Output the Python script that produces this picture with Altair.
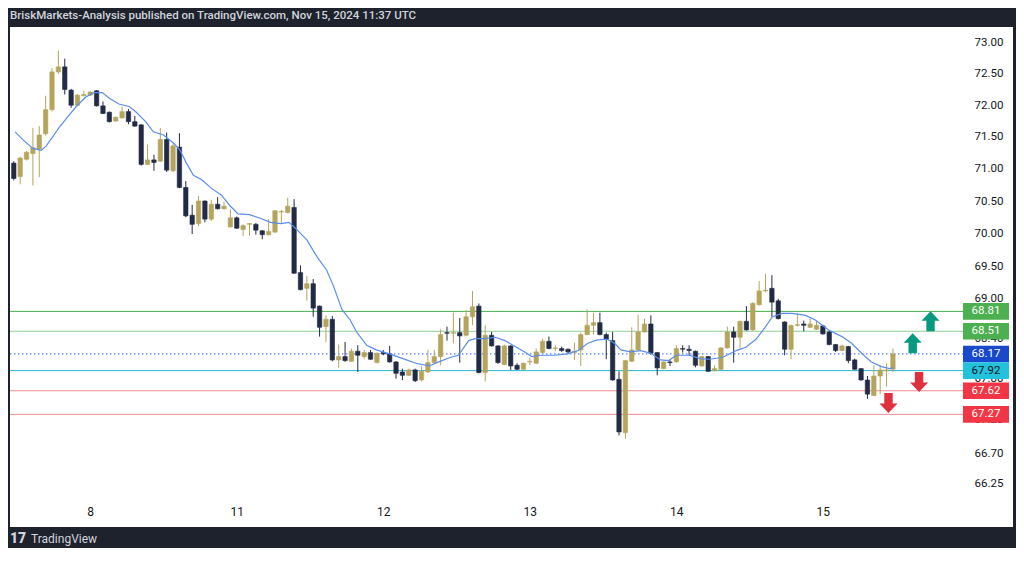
import altair as alt
import pandas as pd

# ---------------- data ----------------
candle_idx = list(range(-1, 138))

opens = [71.09,
    70.88, 71.15, 71.24, 71.31, 71.55, 71.93, 72.53, 72.61, 72.24, 72.00,
    72.15, 72.16, 72.23, 71.99, 71.89, 71.75, 71.80, 71.90, 71.74, 71.69,
    71.07, 71.14, 71.12, 71.46, 70.97, 71.34, 70.71, 70.28, 70.15, 70.50,
    70.22, 70.45, 70.38, 70.10, 70.24, 70.06, 70.14, 70.14, 70.04, 69.98,
    70.02, 70.33, 70.32, 70.40, 69.40, 69.16, 69.23, 68.89, 68.58, 68.69,
    68.08, 68.13, 68.06, 68.21, 68.13, 68.19, 68.04, 68.19, 68.17, 68.05,
    67.90, 67.85, 67.93, 67.78, 67.90, 68.04, 68.13, 68.49, 68.48, 68.49,
    68.45, 68.73, 68.89, 67.89, 68.45, 68.29, 68.01, 68.29, 68.00, 67.94,
    68.05, 68.03, 68.19, 68.36, 68.25, 68.25, 68.24, 68.19, 68.23, 68.46,
    68.60, 68.64, 68.46, 68.37, 67.79, 67.00, 68.06, 68.23, 68.50, 68.62,
    68.19, 67.95, 68.05, 68.05, 68.25, 68.24, 68.21, 67.99, 68.13, 67.92,
    67.94, 68.26, 68.50, 68.42, 68.66, 68.53, 68.91, 69.12, 69.16, 68.97,
    68.65, 68.24, 68.60, 68.62, 68.57, 68.54, 68.59, 68.50, 68.31, 68.22,
    68.28, 68.08, 67.95, 67.78, 67.55, 67.84, 67.92, 67.94]

highs = [71.12,
    71.19, 71.28, 71.64, 71.67, 72.15, 72.59, 72.87, 72.74, 72.26, 72.18,
    72.23, 72.22, 72.24, 72.06, 71.90, 71.82, 71.98, 71.94, 71.83, 71.70,
    71.38, 71.22, 71.64, 71.57, 71.40, 71.56, 70.81, 70.44, 70.58, 70.51,
    70.52, 70.56, 70.49, 70.37, 70.26, 70.14, 70.16, 70.16, 70.05, 70.22,
    70.36, 70.36, 70.55, 70.53, 69.51, 69.35, 69.30, 68.90, 68.75, 68.74,
    68.31, 68.35, 68.25, 68.30, 68.23, 68.23, 68.19, 68.23, 68.29, 68.06,
    67.95, 67.95, 67.95, 67.99, 68.23, 68.23, 68.54, 68.58, 68.79, 68.71,
    68.83, 69.12, 68.93, 68.60, 68.50, 68.30, 68.31, 68.30, 68.03, 68.04,
    68.11, 68.25, 68.40, 68.43, 68.30, 68.28, 68.25, 68.34, 68.49, 68.84,
    68.79, 68.79, 68.49, 68.50, 67.91, 68.08, 68.57, 68.76, 68.70, 68.75,
    68.20, 68.06, 68.09, 68.30, 68.30, 68.30, 68.22, 68.14, 68.14, 68.00,
    68.27, 68.58, 68.58, 68.67, 68.89, 68.95, 69.27, 69.38, 69.36, 69.00,
    68.66, 68.61, 68.78, 68.67, 68.70, 68.67, 68.61, 68.52, 68.32, 68.31,
    68.29, 68.10, 67.96, 67.84, 68.00, 68.00, 68.03, 68.25]

lows = [70.82,
    70.76, 71.13, 70.74, 70.87, 71.52, 71.90, 72.50, 72.17, 71.96, 71.98,
    72.14, 72.15, 71.98, 71.86, 71.73, 71.74, 71.79, 71.70, 71.66, 71.05,
    71.06, 70.97, 71.11, 70.95, 70.95, 70.70, 70.25, 69.99, 70.11, 70.17,
    70.19, 70.37, 70.37, 70.09, 70.07, 69.96, 69.96, 69.98, 69.91, 69.97,
    70.01, 70.15, 70.31, 69.38, 69.13, 68.97, 68.73, 68.43, 68.35, 68.06,
    67.96, 68.05, 68.05, 67.90, 68.09, 68.08, 68.03, 68.15, 68.04, 67.80,
    67.78, 67.84, 67.75, 67.76, 67.89, 68.03, 68.00, 68.37, 68.33, 68.04,
    68.44, 68.60, 67.88, 67.76, 68.28, 68.02, 68.00, 67.93, 67.93, 67.93,
    68.00, 68.02, 68.18, 68.24, 68.21, 68.20, 68.18, 68.08, 67.99, 68.45,
    68.46, 68.45, 68.09, 67.77, 66.96, 66.91, 68.05, 68.22, 68.49, 68.16,
    67.85, 67.94, 67.99, 68.04, 68.19, 68.15, 67.97, 67.98, 67.90, 67.91,
    67.93, 68.25, 68.04, 68.25, 68.52, 68.52, 68.90, 69.10, 68.73, 68.69,
    68.15, 68.09, 68.58, 68.51, 68.56, 68.53, 68.46, 68.30, 68.20, 68.21,
    68.03, 67.93, 67.77, 67.50, 67.54, 67.57, 67.68, 67.90]

closes = [70.85,
    71.17, 71.26, 71.33, 71.53, 71.93, 72.53, 72.61, 72.25, 72.00, 72.16,
    72.17, 72.21, 71.99, 71.87, 71.74, 71.81, 71.90, 71.74, 71.67, 71.07,
    71.14, 71.10, 71.46, 70.98, 71.36, 70.71, 70.27, 70.14, 70.50, 70.22,
    70.45, 70.38, 70.42, 70.24, 70.08, 70.12, 70.15, 70.05, 69.98, 70.03,
    70.35, 70.34, 70.42, 69.39, 69.14, 69.23, 68.86, 68.57, 68.69, 68.08,
    68.13, 68.07, 68.21, 68.15, 68.19, 68.09, 68.18, 68.17, 68.05, 67.88,
    67.85, 67.93, 67.77, 67.91, 68.04, 68.13, 68.46, 68.48, 68.49, 68.44,
    68.73, 68.88, 67.89, 68.45, 68.29, 68.04, 68.29, 67.99, 67.94, 68.03,
    68.06, 68.20, 68.36, 68.25, 68.26, 68.22, 68.20, 68.21, 68.46, 68.60,
    68.64, 68.46, 68.39, 67.78, 67.01, 68.07, 68.23, 68.50, 68.62, 68.18,
    67.96, 68.05, 68.04, 68.25, 68.24, 68.22, 68.00, 68.13, 67.91, 67.95,
    68.26, 68.50, 68.42, 68.66, 68.53, 68.93, 69.12, 69.13, 68.95, 68.70,
    68.24, 68.60, 68.61, 68.60, 68.62, 68.60, 68.47, 68.31, 68.22, 68.29,
    68.07, 67.94, 67.78, 67.57, 67.84, 67.93, 67.93, 68.17]

# moving-average line
ma_idx = [-0.8, 0.5, 2.0, 3.3, 4.1, 5.1, 6.2, 7.5, 8.8, 10.3, 11.6, 12.9, 14.0, 15.5,
          17.1, 18.1, 19.7, 20.9, 22.5, 24.1, 25.1, 26.1, 27.2, 28.5, 30.0, 31.6,
          32.9, 34.2, 36.0, 37.8, 39.3, 40.9, 42.2, 43.2, 45.0, 46.6, 48.1, 49.2,
          50.5, 51.8, 52.8, 54.4, 55.9, 58.0, 60.1, 62.1, 64.2, 65.7, 67.6, 68.8,
          70.4, 71.4, 73.0, 74.6, 76.1, 77.7, 79.2, 80.3, 81.8, 83.9, 85.9, 87.6,
          89.1, 90.6, 92.2, 93.3, 94.3, 95.8, 97.4, 99.0, 100.5, 101.8, 103.0,
          105.1, 106.7, 108.3, 110.3, 112.4, 113.9, 115.5, 117.0, 118.1, 119.6,
          121.2, 123.3, 124.8, 126.9, 129.0, 130.5, 132.1, 133.6, 135.2, 136.5, 137.0]
ma_val = [71.58, 71.45, 71.32, 71.29, 71.36, 71.50, 71.66, 71.82, 71.98, 72.13, 72.20,
          72.20, 72.11, 72.02, 71.98, 71.90, 71.74, 71.58, 71.53, 71.40, 71.29, 71.09,
          70.90, 70.83, 70.70, 70.59, 70.43, 70.30, 70.29, 70.23, 70.17, 70.15, 70.17,
          70.08, 69.90, 69.64, 69.44, 69.19, 68.84, 68.68, 68.50, 68.30, 68.23, 68.17,
          68.10, 68.03, 67.99, 68.05, 68.12, 68.15, 68.37, 68.40, 68.40, 68.42, 68.37,
          68.28, 68.20, 68.13, 68.15, 68.15, 68.17, 68.22, 68.33, 68.38, 68.39, 68.33,
          68.23, 68.20, 68.22, 68.18, 68.08, 68.07, 68.15, 68.15, 68.10, 68.09, 68.12,
          68.22, 68.27, 68.39, 68.58, 68.73, 68.78, 68.78, 68.75, 68.68, 68.53, 68.43,
          68.33, 68.18, 68.05, 67.98, 67.95, 67.96]

# horizontal levels and their price tags
level_price = [68.81, 68.51, 68.17, 67.92, 67.62, 67.27]
level_line_color = ["#4caf50", "#8fcf92", "#2962ff", "#22b8d0", "#f28b8f", "#f28b8f"]
level_tag_color = ["#4caf50", "#4caf50", "#1848cc", "#22c1dc", "#f23645", "#f23645"]
level_text_color = ["#ffffff", "#ffffff", "#ffffff", "#131722", "#ffffff", "#ffffff"]
level_dotted = [False, False, True, False, False, False]

# arrows
arrow_idx = [142.9, 140.1, 141.1, 136.3]
arrow_price = [68.66, 68.33, 67.75, 67.44]
arrow_dir = ["up", "up", "down", "down"]

# axis ticks
day_labels = ["8", "11", "12", "13", "14", "15"]
day_idx = [11, 34, 57, 80, 103, 126]
price_ticks = [73.00, 72.50, 72.00, 71.50, 71.00, 70.50, 70.00, 69.50, 69.00,
               68.40, 67.80, 67.20, 66.70, 66.25]

header_text = "BriskMarkets-Analysis published on TradingView.com, Nov 15, 2024 11:37 UTC"

assert len(opens) == len(highs) == len(lows) == len(closes) == len(candle_idx)
assert len(ma_idx) == len(ma_val)

# ---------------- tables ----------------
candles = pd.DataFrame({"idx": candle_idx, "open": opens, "high": highs,
                        "low": lows, "close": closes})
candles["dir"] = ["up" if c >= o else "down" for o, c in zip(opens, closes)]
ma = pd.DataFrame({"idx": ma_idx, "ma": ma_val})
levels = pd.DataFrame({"price": level_price, "lc": level_line_color,
                       "tc": level_tag_color, "txc": level_text_color,
                       "dotted": level_dotted})
arrows = pd.DataFrame({"idx": arrow_idx, "price": arrow_price, "dir": arrow_dir})

# ---------------- scales / axes ----------------
W, H = 1003, 500
FONT = "Roboto"
xscale = alt.Scale(domain=[-0.81, 155.06], nice=False, zero=False)
yscale = alt.Scale(type="log", domain=[65.625, 73.249], nice=False)

label_expr = " : ".join(
    f"datum.value == {i} ? '{l}'" for i, l in zip(day_idx, day_labels)) + " : ''"
xaxis = alt.Axis(values=day_idx, labelExpr=label_expr, domain=False, ticks=False,
                 grid=False, title=None, offset=-21, labelPadding=0,
                 labelFontSize=12, labelColor="#131722", labelFont=FONT, zindex=0)
yaxis = alt.Axis(values=price_ticks, format=".2f", orient="right", domain=False,
                 ticks=False, grid=False, title=None, labelAlign="right",
                 labelPadding=-10, labelBaseline="middle", labelFontSize=11.5,
                 labelColor="#131722", labelFont=FONT, zindex=0)

color_scale = alt.Scale(domain=["up", "down"], range=["#b5a45c", "#222b45"])

X = alt.X("idx:Q", scale=xscale, axis=xaxis)

wicks = alt.Chart(candles).mark_rule(strokeWidth=1, clip=True).encode(
    x=X,
    y=alt.Y("low:Q", scale=yscale, axis=yaxis),
    y2="high:Q",
    color=alt.Color("dir:N", scale=color_scale, legend=None),
)
bodies = alt.Chart(candles).mark_bar(width=4.4, strokeWidth=0.6, clip=True).encode(
    x=X,
    y=alt.Y("open:Q", scale=yscale, axis=yaxis),
    y2="close:Q",
    color=alt.Color("dir:N", scale=color_scale, legend=None),
    stroke=alt.Stroke("dir:N", scale=color_scale, legend=None),
)
ma_line = alt.Chart(ma).mark_line(strokeWidth=1.2, color="#5b8def", clip=True).encode(
    x=X,
    y=alt.Y("ma:Q", scale=yscale, axis=yaxis),
)

TAG_L, TAG_R = 953, 999
solid_lines = alt.Chart(levels).transform_filter("!datum.dotted").mark_rule(
    strokeWidth=1).encode(
    y=alt.Y("price:Q", scale=yscale, axis=yaxis),
    x=alt.value(0), x2=alt.value(TAG_L),
    color=alt.Color("lc:N", scale=None),
)
dotted_lines = alt.Chart(levels).transform_filter("datum.dotted").mark_rule(
    strokeWidth=1, strokeDash=[1.5, 2.5]).encode(
    y=alt.Y("price:Q", scale=yscale, axis=yaxis),
    x=alt.value(0), x2=alt.value(TAG_L),
    color=alt.Color("lc:N", scale=None),
)
tag_w = TAG_R - TAG_L
rect_path = "M-1,-0.36L1,-0.36L1,0.36L-1,0.36Z"
tags = alt.Chart(levels).mark_point(shape=rect_path, size=tag_w * tag_w, filled=True,
                                    opacity=1, strokeWidth=0).encode(
    x=alt.value((TAG_L + TAG_R) / 2),
    y=alt.Y("price:Q", scale=yscale, axis=yaxis),
    color=alt.Color("tc:N", scale=None),
)
tag_text = alt.Chart(levels).mark_text(fontSize=11.5, font=FONT, align="center",
                                       baseline="middle").encode(
    x=alt.value((TAG_L + TAG_R) / 2),
    y=alt.Y("price:Q", scale=yscale, axis=yaxis),
    text=alt.Text("price:Q", format=".2f"),
    color=alt.Color("txc:N", scale=None),
)

up_path = "M0,-1L0.9,-0.05L0.42,-0.05L0.42,1L-0.42,1L-0.42,-0.05L-0.9,-0.05Z"
down_path = "M0,1L0.9,0.05L0.42,0.05L0.42,-1L-0.42,-1L-0.42,0.05L-0.9,0.05Z"
arrows_up = alt.Chart(arrows).transform_filter("datum.dir == 'up'").mark_point(
    shape=up_path, size=400, filled=True, opacity=1, strokeWidth=0,
    color="#089981").encode(
    x=X, y=alt.Y("price:Q", scale=yscale, axis=yaxis))
arrows_down = alt.Chart(arrows).transform_filter("datum.dir == 'down'").mark_point(
    shape=down_path, size=400, filled=True, opacity=1, strokeWidth=0,
    color="#e0303e").encode(
    x=X, y=alt.Y("price:Q", scale=yscale, axis=yaxis))

one = pd.DataFrame({"t": [header_text]})
header = alt.Chart(one).mark_text(align="left", baseline="middle", fontSize=11.5,
                                  font=FONT, fontWeight=500, color="#d1d4dc").encode(
    x=alt.value(0), y=alt.value(-11), text="t:N")
logo = alt.Chart(pd.DataFrame({"t": ["17"]})).mark_text(
    align="left", baseline="alphabetic", fontSize=14, font=FONT, fontWeight=900,
    color="#d1d4dc").encode(
    x=alt.value(0), y=alt.value(516), text="t:N")
footer = alt.Chart(pd.DataFrame({"t": ["TradingView"]})).mark_text(
    align="left", baseline="alphabetic", fontSize=12, font=FONT,
    color="#d1d4dc").encode(x=alt.value(21), y=alt.value(516), text="t:N")

chart = alt.layer(
    solid_lines, dotted_lines, wicks, bodies, ma_line, tags, tag_text,
    arrows_up, arrows_down, header, logo, footer,
).properties(
    width=W, height=H,
    autosize=alt.AutoSizeParams(type="none"),
    padding={"left": 2, "top": 19, "right": 3, "bottom": 21},
    background="#1e222d",
).configure_view(fill="#ffffff", strokeWidth=0)

chart.save("out.html", embed_options={"renderer": "svg", "actions": False})
